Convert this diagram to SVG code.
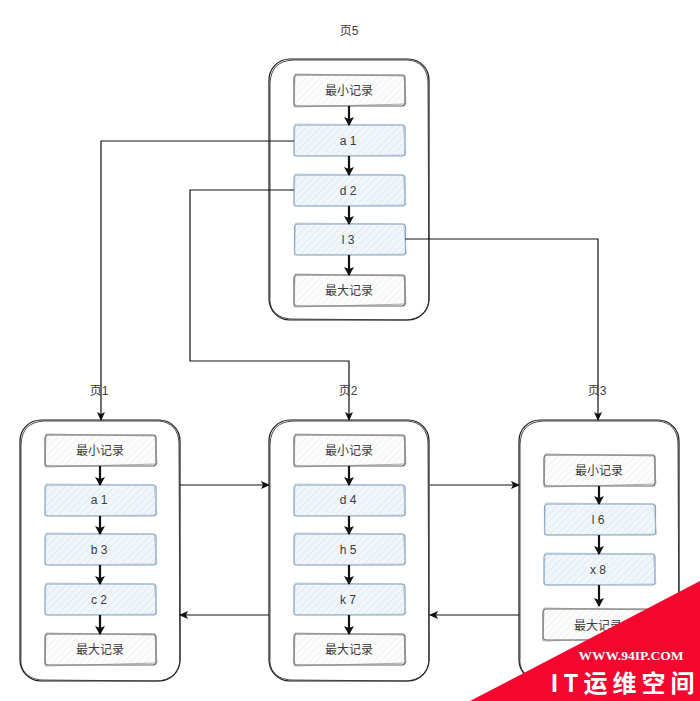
<svg xmlns="http://www.w3.org/2000/svg" xmlns:xlink="http://www.w3.org/1999/xlink" width="700" height="701" viewBox="0 0 700 701">
<style>
text{font-family:"Liberation Sans","Noto Sans CJK SC",sans-serif;font-size:12px;fill:#3a3a3a;text-anchor:middle}
.page{fill:#fff;stroke:#1a1a1a;stroke-width:1.2}
.page2{fill:none;stroke:#333;stroke-width:.9}
.grey{fill:url(#hg);stroke:#666;stroke-width:1.2}
.blue{fill:url(#hb);stroke:#86a2c0;stroke-width:1.2}
.grey2{fill:none;stroke:#888;stroke-width:.7}
.blue2{fill:none;stroke:#a5bbd2;stroke-width:.7}
.thick{fill:none;stroke:#111;stroke-width:2.2;marker-end:url(#ah)}
.thin{fill:none;stroke:#111;stroke-width:1.2;marker-end:url(#as)}
text.wm1{font-family:"Liberation Serif","Noto Sans CJK SC",serif;font-weight:bold;font-size:13.500px;fill:#fff}
text.wm2{font-family:"Noto Sans CJK SC",sans-serif;font-weight:bold;font-size:24px;fill:#fff;letter-spacing:5px}
</style>
<defs>
<pattern id="hg" width="5" height="5" patternUnits="userSpaceOnUse" patternTransform="rotate(45)"><rect width="5" height="5" fill="#fcfcfc"/><path d="M0 0V5" stroke="#eeeeee" stroke-width="1.500"/></pattern>
<pattern id="hb" width="5" height="5" patternUnits="userSpaceOnUse" patternTransform="rotate(45)"><rect width="5" height="5" fill="#f1f6fb"/><path d="M0 0V5" stroke="#dae6f2" stroke-width="1.500"/></pattern>
<marker id="ah" markerUnits="userSpaceOnUse" markerWidth="10" markerHeight="10" refX="8" refY="5" orient="auto"><path d="M0 0L9 5L0 10L2 5Z" fill="#111"/></marker>
<marker id="as" markerUnits="userSpaceOnUse" markerWidth="10" markerHeight="10" refX="8" refY="5" orient="auto"><path d="M0 1L9 5L0 9L2 5Z" fill="#111"/></marker>
<g id="bigbox"><rect class="page" x="0" y="0" width="160" height="261" rx="21"/><path class="page2" d="M1 24C2 9 9 2 24 1L139 1C151 2 159 10 159 24L160 240C159 253 151 260 137 261L22 260C8 259 0 251 1 238Z"/></g>
<g id="gbox"><rect class="grey" x="0" y="0" width="111" height="31" rx="3"/><path class="grey2" d="M1 -1L110 1L112 29L0 32Z"/></g>
<g id="bbox"><rect class="blue" x="0" y="0" width="111" height="31" rx="3"/><path class="blue2" d="M1 -1L109 0L112 30L0 31Z"/></g>
</defs>
<rect width="700" height="701" fill="#fff"/>
<g id="page5"><use xlink:href="#bigbox" x="269" y="59"/><use xlink:href="#gbox" x="294" y="75"/><use xlink:href="#bbox" x="294" y="125"/><use xlink:href="#bbox" x="294" y="175"/><use xlink:href="#bbox" x="294.500" y="224"/><use xlink:href="#gbox" x="294" y="275"/>
<text x="349" y="35">页5</text><text x="349" y="95">最小记录</text><text x="348" y="145">a 1</text><text x="348" y="195">d 2</text><text x="348" y="244">l 3</text><text x="349" y="295">最大记录</text></g>
<g id="page1"><use xlink:href="#bigbox" x="20" y="420"/><use xlink:href="#gbox" x="45" y="435"/><use xlink:href="#bbox" x="45" y="485"/><use xlink:href="#bbox" x="45" y="534"/><use xlink:href="#bbox" x="45" y="584"/><use xlink:href="#gbox" x="45" y="634"/>
<text x="100" y="455">最小记录</text><text x="99" y="504">a 1</text><text x="99" y="554">b 3</text><text x="99" y="604">c 2</text><text x="100" y="654">最大记录</text></g>
<g id="page2"><use xlink:href="#bigbox" x="269" y="420"/><use xlink:href="#gbox" x="294" y="435"/><use xlink:href="#bbox" x="294" y="485"/><use xlink:href="#bbox" x="294" y="534"/><use xlink:href="#bbox" x="294" y="584"/><use xlink:href="#gbox" x="294" y="634"/>
<text x="349" y="455">最小记录</text><text x="348" y="504">d 4</text><text x="348" y="554">h 5</text><text x="348" y="604">k 7</text><text x="349" y="654">最大记录</text></g>
<g id="page3"><use xlink:href="#bigbox" x="519" y="420"/><use xlink:href="#gbox" x="544" y="455"/><use xlink:href="#bbox" x="544.500" y="504"/><use xlink:href="#bbox" x="544" y="554"/><use xlink:href="#gbox" x="543" y="609"/>
<text x="599" y="475">最小记录</text><text x="598" y="524">l 6</text><text x="598" y="574">x 8</text><text x="598" y="630">最大记录</text></g>
<g id="connectors">
<path class="thick" d="M349 106V125"/><path class="thick" d="M349 156V175"/><path class="thick" d="M349 206V224"/><path class="thick" d="M349 255V275"/>
<path class="thick" d="M100 466V485"/><path class="thick" d="M100 516V534"/><path class="thick" d="M100 565V584"/><path class="thick" d="M100 615V634"/>
<path class="thick" d="M349 466V485"/><path class="thick" d="M349 516V534"/><path class="thick" d="M349 565V584"/><path class="thick" d="M349 615V634"/>
<path class="thick" d="M599 486V504"/><path class="thick" d="M599 535V554"/><path class="thick" d="M599 585V606"/>
<path class="thin" d="M294 141H101V420"/><path class="thin" d="M294 190H190V361H349V420"/><path class="thin" d="M405 239H598V420"/>
<path class="thin" d="M180 485H269"/><path class="thin" d="M430 485H519"/><path class="thin" d="M269 615H180"/><path class="thin" d="M519 615H430"/>
</g>
<text x="99" y="395">页1</text><text x="348" y="395">页2</text><text x="597" y="395">页3</text>
<polygon points="700,581 700,701 470,701" fill="#f5062e"/>
<text class="wm1" x="631" y="660">WWW.94IP.COM</text>
<text class="wm2" x="625" y="692">IT运维空间</text>
</svg>
